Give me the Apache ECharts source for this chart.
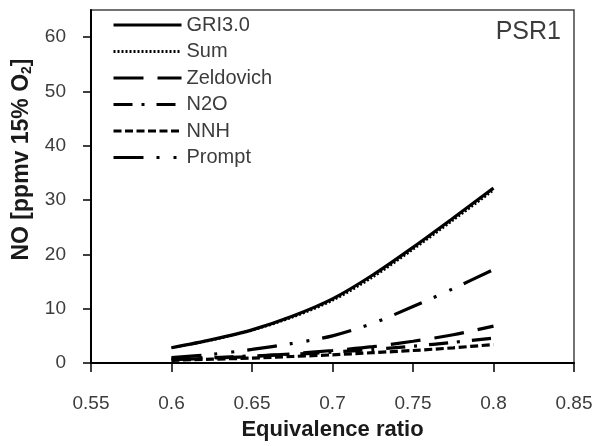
<!DOCTYPE html>
<html>
<head>
<meta charset="utf-8">
<style>
  html, body { margin: 0; padding: 0; background: #fff; }
  #chart { width: 605px; height: 446px; }
</style>
<script src="https://cdn.jsdelivr.net/npm/echarts@6/dist/echarts.min.js"></script>
</head>
<body>
<div id="chart"></div>
<script>
// Equivalence ratio samples
const phi = [0.6, 0.625, 0.65, 0.675, 0.7, 0.725, 0.75, 0.775, 0.8];

// NO [ppmv @ 15% O2] by mechanism / pathway
const gri30     = [2.8, 4.3, 6.1, 8.6, 11.8, 16.2, 21.3, 26.7, 32.2];
const sumPath   = [2.8, 4.2, 6.0, 8.4, 11.5, 15.8, 20.9, 26.3, 31.8];
const zeldovich = [0.6, 0.9, 1.2, 1.7, 2.3, 3.0, 4.0, 5.2, 6.8];
const n2o       = [0.8, 1.0, 1.3, 1.6, 2.0, 2.5, 3.1, 3.8, 4.6];
const nnh       = [0.5, 0.7, 0.9, 1.2, 1.5, 1.9, 2.3, 2.8, 3.4];
const prompt    = [1.0, 1.6, 2.5, 3.6, 5.0, 7.3, 10.4, 13.7, 17.2];

const xTicks = [0.55, 0.6, 0.65, 0.7, 0.75, 0.8, 0.85];
const yTicks = [0, 10, 20, 30, 40, 50, 60];

const pairs = ys => phi.map((x, i) => [x, ys[i]]);

const seriesDefs = [
  { name: 'GRI3.0',    data: gri30,     dash: 'solid',                 width: 3.2 },
  { name: 'Sum',       data: sumPath,   dash: [2, 2],                  width: 2.4 },
  { name: 'Zeldovich', data: zeldovich, dash: [30, 14],                width: 3.2 },
  { name: 'N2O',       data: n2o,       dash: [19, 9, 3, 12],          width: 3.2 },
  { name: 'NNH',       data: nnh,       dash: [8, 3.5],                width: 3.2 },
  { name: 'Prompt',    data: prompt,    dash: [30, 13, 3, 14, 3, 13],  width: 3.2 }
];

const textColor = '#3c3c3c';
const font = 'Liberation Sans';

const chart = echarts.init(document.getElementById('chart'), null, { renderer: 'canvas' });
chart.setOption({
  animation: false,
  backgroundColor: '#fff',
  grid: {
    left: 91, right: 31, top: 10, bottom: 82,
    show: true, borderColor: '#444', borderWidth: 1.5, backgroundColor: 'transparent'
  },
  legend: {
    orient: 'vertical',
    left: 107, top: 10,
    itemWidth: 68, itemHeight: 16, itemGap: 6.5,
    itemStyle: { opacity: 0 },
    lineStyle: { width: 3 },
    textStyle: { fontFamily: font, fontSize: 20, color: textColor },
    data: seriesDefs.map(s => s.name)
  },
  graphic: [{
    type: 'text', right: 44, top: 20,
    style: { text: 'PSR1', font: '25px "Liberation Sans"', fill: textColor }
  }],
  xAxis: {
    type: 'value', min: 0.55, max: 0.85, interval: 0.05,
    name: 'Equivalence ratio', nameLocation: 'middle', nameGap: 56,
    nameTextStyle: { fontFamily: font, fontSize: 22, fontWeight: 'bold', color: '#1a1a1a' },
    axisLine: { lineStyle: { color: '#000', width: 2 } },
    axisTick: { inside: false, length: 9, customValues: xTicks, lineStyle: { color: '#000', width: 1.5 } },
    axisLabel: {
      margin: 31, fontFamily: font, fontSize: 19, color: textColor,
      customValues: xTicks,
      formatter: v => String(parseFloat(v.toFixed(2)))
    },
    splitLine: { show: false }
  },
  yAxis: {
    type: 'value', min: 0, max: 65, interval: 10,
    name: '{t|NO [ppmv 15% O}{s|2}{t|]}', nameLocation: 'middle', nameGap: 57,
    nameTextStyle: {
      padding: [0, 0, 0, 54],
      rich: {
        t: { fontFamily: font, fontSize: 23, fontWeight: 'bold', color: '#1a1a1a' },
        s: { fontFamily: font, fontSize: 14, fontWeight: 'bold', color: '#1a1a1a', padding: [10, 0, 0, 0] }
      }
    },
    axisLine: { show: true, lineStyle: { color: '#000', width: 2 } },
    axisTick: { show: true, length: 8, customValues: yTicks, lineStyle: { color: '#000', width: 1.5 } },
    axisLabel: {
      margin: 25, fontFamily: font, fontSize: 19, color: textColor,
      customValues: yTicks
    },
    splitLine: { show: false }
  },
  series: seriesDefs.map(s => ({
    name: s.name,
    type: 'line',
    data: pairs(s.data),
    smooth: 0.3,
    symbol: 'none',
    color: '#000',
    lineStyle: { color: '#000', width: s.width, type: s.dash }
  }))
});
</script>
</body>
</html>
